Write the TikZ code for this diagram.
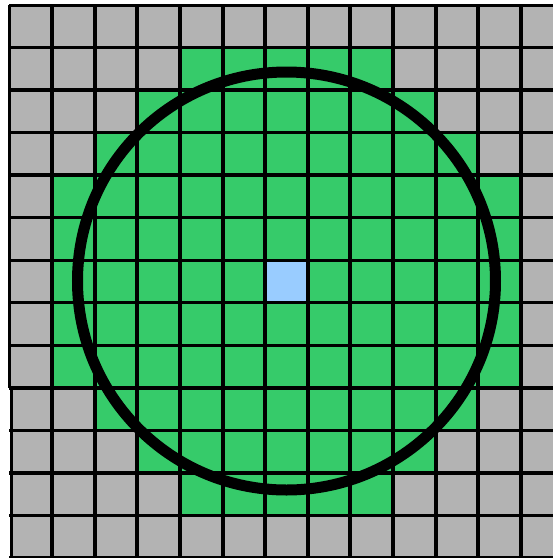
\documentclass[tikz,border=0pt]{standalone}
\definecolor{cellgray}{RGB}{179,179,179}
\definecolor{cellgreen}{RGB}{54,203,106}
\definecolor{cellblue}{RGB}{153,204,255}
\begin{document}
\begin{tikzpicture}[x=1pt,y=-1pt,
  gridv/.style={line width=4pt,black},
  gridh/.style={line width=3.4pt,black},
  edgeline/.style={line width=3pt,black},
  ring/.style={line width=11pt,black}]
\useasboundingbox (0,0) rectangle (553,558);
\fill[white] (0,0) rectangle (553,558);
% cells
\foreach \i in {0,...,12}{
  \foreach \j in {0,...,12}{
    \pgfmathtruncatemacro{\d}{(\i-6)*(\i-6)+(\j-6)*(\j-6)}
    \ifnum\d=0 \def\cc{cellblue}\else\ifnum\d<31 \def\cc{cellgreen}\else\def\cc{cellgray}\fi\fi
    \fill[\cc] ({9.4+42.62*\i},{5+42.54*\j}) rectangle ++(42.62,42.54);
  }
}
% slight offset of the lower-left part
\fill[white] (0,387.9) rectangle (11.8,560);
% vertical grid lines
\foreach \i in {1,...,12}{
  \draw[gridv] ({9.4+42.62*\i},5) -- ({9.4+42.62*\i},560);
}
% horizontal grid lines
\foreach \j in {1,...,12}{
  \draw[gridh] (9.4,{5+42.54*\j}) -- (560,{5+42.54*\j});
}
% outer edges
\draw[edgeline] (9.4,5) -- (560,5);
\draw[edgeline] (9.4,5) -- (9.4,387.9);
\draw[edgeline] (11.8,387.9) -- (11.8,560);
\draw[edgeline] (9.4,557.5) -- (560,557.5);
% circle
\draw[ring] (286.5,281) circle[radius=209];
\end{tikzpicture}
\end{document}
